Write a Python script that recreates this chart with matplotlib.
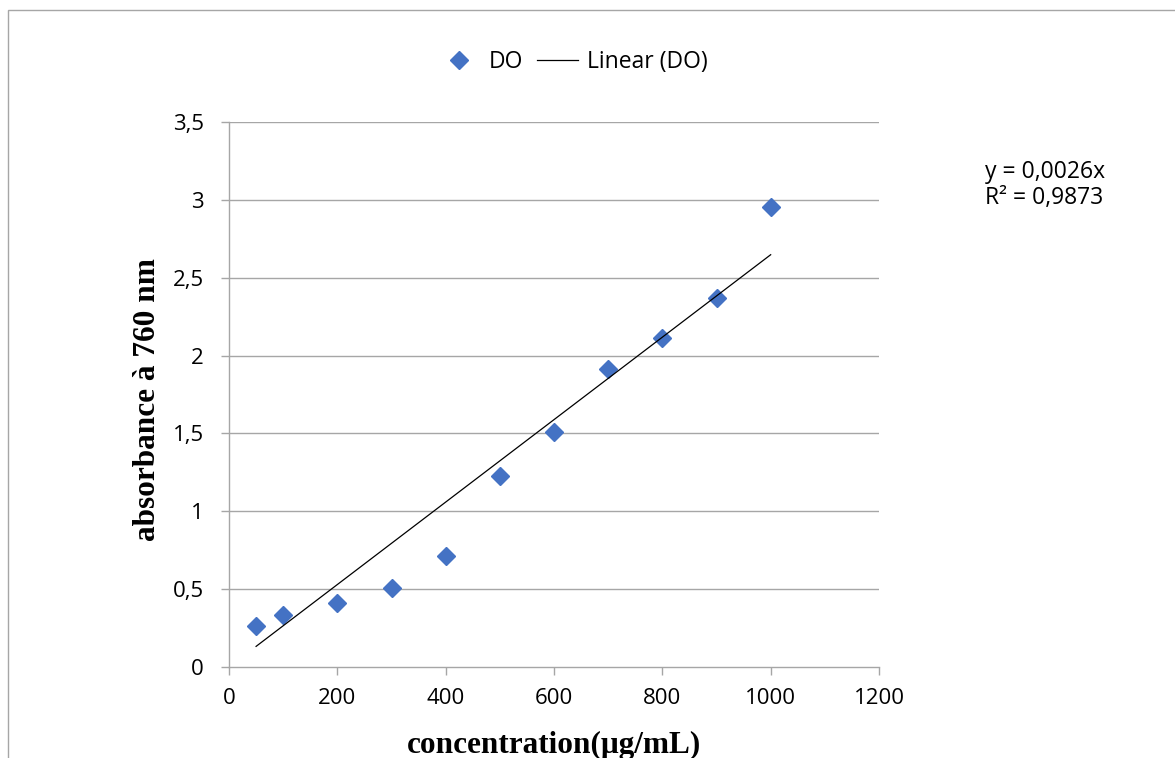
"""
Calibration curve: absorbance at 760 nm vs concentration
"""

import matplotlib
matplotlib.use('Agg')
import matplotlib.pyplot as plt
from matplotlib.patches import Rectangle
from matplotlib.ticker import FuncFormatter
import numpy as np

# Data
concentration = [50, 100, 200, 300, 400, 500, 600, 700, 800, 900, 1000]
absorbance = [0.261, 0.334, 0.411, 0.510, 0.716, 1.226, 1.506, 1.913, 2.113, 2.372, 2.951]
x_ticks = [0, 200, 400, 600, 800, 1000, 1200]
y_ticks = [0, 0.5, 1, 1.5, 2, 2.5, 3, 3.5]
equation_lines = ['y = 0,0026x', 'R² = 0,9873']

W, H = 1175, 758
fig = plt.figure(figsize=(W / 100, H / 100), dpi=100)
ax = fig.add_axes([229 / W, 1 - 667 / H, 650 / W, 545 / H])

x = np.array(concentration, dtype=float)
y = np.array(absorbance, dtype=float)

# Linear trend through the origin
slope = np.sum(x * y) / np.sum(x * x)
x_fit = np.array([x.min(), x.max()])

grid_color = '#a6a6a6'
sans = ['Open Sans', 'DejaVu Sans']

for yv in y_ticks[1:]:
    ax.axhline(yv, color=grid_color, linewidth=1.0, zorder=0)

ax.plot(x, y, linestyle='none', marker='D', markersize=9.5,
        color='#4472C4', label='DO', zorder=3)
ax.plot(x_fit, slope * x_fit, color='black', linewidth=0.9,
        label='Linear (DO)', zorder=4)

ax.set_xlim(0, 1200)
ax.set_ylim(0, 3.5)
ax.set_xticks(x_ticks)
ax.set_yticks(y_ticks)
ax.yaxis.set_major_formatter(FuncFormatter(lambda v, p: f'{v:g}'.replace('.', ',')))

for side in ['top', 'right']:
    ax.spines[side].set_visible(False)
for side in ['left', 'bottom']:
    ax.spines[side].set_color(grid_color)
    ax.spines[side].set_linewidth(1.0)
ax.tick_params(axis='both', colors=grid_color, length=6, width=1.0, direction='out')
ax.tick_params(axis='x', pad=9)
ax.tick_params(axis='y', pad=12)
for lbl in ax.get_xticklabels() + ax.get_yticklabels():
    lbl.set_color('black')
    lbl.set_fontfamily(sans)
    lbl.set_fontsize(16)

ax.set_xlabel('concentration(μg/mL)', fontsize=22.5, fontweight='bold',
              family='Liberation Serif', va='center')
ax.set_ylabel('absorbance à 760 nm', fontsize=22.5, fontweight='bold',
              family='Liberation Serif', va='center')
ax.xaxis.set_label_coords(0.5, -78 / 545)
ax.yaxis.set_label_coords((148 - 229) / 650, 0.49)

for i, line in enumerate(equation_lines):
    fig.text(985 / W, 1 - (172 + 26 * i) / H, line, ha='left', va='center',
             fontsize=16.5, family=sans)

fig.legend(loc='center', bbox_to_anchor=(573 / W, 1 - 62 / H), ncol=2,
           frameon=False, prop={'family': sans, 'size': 16.5},
           handlelength=1.8, columnspacing=0.6, handletextpad=0.4)

# Chart area border (runs off the right and bottom edges)
fig.patches.append(Rectangle((8 / W, -0.05), 1.1, 1 - 10 / H + 0.05,
                             transform=fig.transFigure, fill=False,
                             edgecolor=grid_color, linewidth=1.0))

fig.savefig('out.png', dpi=100)
